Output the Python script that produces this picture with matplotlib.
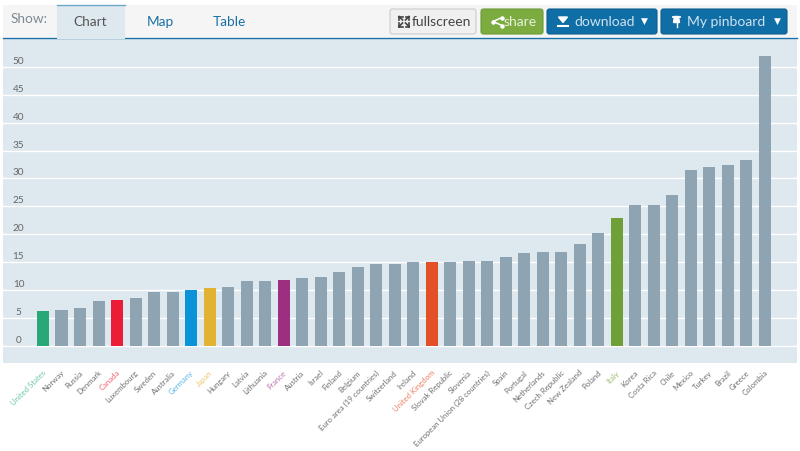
import matplotlib
matplotlib.use("Agg")
import matplotlib.pyplot as plt
from matplotlib.patches import FancyBboxPatch, Rectangle
from matplotlib.transforms import ScaledTranslation, blended_transform_factory

countries = ["United States", "Norway", "Russia", "Denmark", "Canada", "Luxembourg", "Sweden",
             "Australia", "Germany", "Japan", "Hungary", "Latvia", "Lithuania", "France",
             "Austria", "Israel", "Finland", "Belgium", "Euro area (19 countries)", "Switzerland",
             "Ireland", "United Kingdom", "Slovak Republic", "Slovenia",
             "European Union (28 countries)", "Spain", "Portugal", "Netherlands",
             "Czech Republic", "New Zealand", "Poland", "Italy", "Korea", "Costa Rica", "Chile",
             "Mexico", "Turkey", "Brazil", "Greece", "Colombia"]
values = [6.2, 6.4, 6.7, 8.0, 8.2, 8.5, 9.6, 9.6, 10.0, 10.3, 10.5, 11.6, 11.6, 11.8, 12.1, 12.4,
          13.2, 14.1, 14.7, 14.7, 15.1, 15.1, 15.1, 15.2, 15.2, 15.9, 16.6, 16.8, 16.9, 18.2,
          20.2, 22.9, 25.2, 25.2, 27.0, 31.6, 32.1, 32.4, 33.4, 52.0]
y_ticks = [0, 5, 10, 15, 20, 25, 30, 35, 40, 45, 50]

highlight = {"United States": ("#27a876", "#6cc7a3"), "Canada": ("#ea1c36", "#f0606f"),
             "Germany": ("#0a93d8", "#5cb6e6"), "Japan": ("#e2b233", "#ecc96c"),
             "France": ("#9c2f7f", "#bb6ea6"), "United Kingdom": ("#e34f26", "#ec8164"),
             "Italy": ("#6e9f38", "#9dbf73")}

BG = "#dee8ef"
BAR = "#8ea4b2"
BLUE = "#1a6fa5"
TEXT = "#666666"
W, H = 800, 451

plt.rcParams["font.family"] = ["Lato", "DejaVu Sans"]
fig = plt.figure(figsize=(W / 100, H / 100), dpi=100, facecolor="white")

# chart area, pixel box 3..797 x 38..363
ax = fig.add_axes([3 / W, 1 - 363 / H, 794 / W, 325 / H], facecolor=BG)
for spine in ax.spines.values():
    spine.set_visible(False)

xs = list(range(len(countries)))
colors = [highlight[c][0] if c in highlight else BAR for c in countries]
ax.bar(xs, values, width=0.65, color=colors, zorder=3)
ax.set_xlim(-2.16, 40.73)
ax.set_ylim(-3.1, 55.2)
ax.yaxis.grid(True, color="white", linewidth=1)
ax.set_axisbelow(True)
ax.set_yticks(y_ticks)
ax.tick_params(axis="y", length=0, labelleft=False)
ax.tick_params(axis="x", length=0, pad=4.5)

trans = blended_transform_factory(ax.transAxes, ax.transData)
for t in y_ticks:
    ax.text(0.0195, t + 1.0, str(t), transform=trans, ha="center", va="center",
            fontsize=7.2, color=TEXT)

ax.set_xticks(xs)
ax.set_xticklabels(countries, rotation=45, ha="right", rotation_mode="anchor", fontsize=5.6)
shift = ScaledTranslation(-1 / 100, 0, fig.dpi_scale_trans)
for lab, c in zip(ax.get_xticklabels(), countries):
    lab.set_color(highlight[c][1] if c in highlight else "#6f6f6f")
    lab.set_transform(lab.get_transform() + shift)

# header drawn in pixel coordinates
top = fig.add_axes([0, 0, 1, 1], facecolor="none")
top.set_xlim(0, W)
top.set_ylim(H, 0)
top.axis("off")

top.add_patch(Rectangle((3, 5), 794, 32, fc="#f5f5f5", ec="none"))
top.plot([3, 797], [37.5, 37.5], color=BLUE, lw=1)
top.add_patch(Rectangle((57, 5), 68, 33.5, fc=BG, ec="none", zorder=3))
top.plot([57, 125], [5, 5], color="#6fa6c8", lw=1, zorder=4)

top.text(29, 19, "Show:", color="#7d8a94", fontsize=9.8, ha="center", va="center")
top.text(90.5, 21.5, "Chart", color="#555555", fontsize=9.8, ha="center", va="center", zorder=5)
top.text(160, 21.5, "Map", color=BLUE, fontsize=9.8, ha="center", va="center")
top.text(229, 21.5, "Table", color=BLUE, fontsize=9.8, ha="center", va="center")


def button(x0, x1, face, edge):
    top.add_patch(FancyBboxPatch((x0, 9), x1 - x0, 25,
                                 boxstyle="round,pad=0,rounding_size=2.5", fc=face, ec=edge,
                                 lw=0.8, zorder=3))


button(390, 476, "#f0f0f0", "#cccccc")
button(481, 543, "#7cab3f", "#6d9a38")
button(547, 657, "#0f6ea6", "#0c5f90")
button(661, 787, "#0f6ea6", "#0c5f90")

top.text(441, 21.5, "fullscreen", color="#444444", fontsize=10, ha="center", va="center", zorder=5)
top.text(520, 21.5, "share", color="#e8f1dc", fontsize=10, ha="center", va="center", zorder=5)
top.text(605, 21.5, "download", color="#cfe3f0", fontsize=10, ha="center", va="center", zorder=5)
top.text(726, 21.5, "My pinboard", color="#cfe3f0", fontsize=10, ha="center", va="center", zorder=5)
top.text(644, 21, "▼", color="white", fontsize=6.5, ha="center", va="center", zorder=5,
         family="DejaVu Sans")
top.text(777, 21, "▼", color="white", fontsize=6.5, ha="center", va="center", zorder=5,
         family="DejaVu Sans")

# fullscreen icon
for dx, dy in [(-5, -5), (5, -5), (-5, 5), (5, 5)]:
    top.plot([404 + dx, 404 + dx * 0.3], [21.5 + dy, 21.5 + dy * 0.3], color="#444444", lw=1.2, zorder=5)
    top.plot([404 + dx, 404 + dx * 0.3], [21.5 + dy, 21.5 + dy], color="#444444", lw=1.2, zorder=5)
    top.plot([404 + dx, 404 + dx], [21.5 + dy, 21.5 + dy * 0.3], color="#444444", lw=1.2, zorder=5)
# share icon
top.plot([502, 493, 502], [17.5, 21.5, 25.5], color="white", lw=1.1, marker="o", ms=2.2, zorder=5)
# download icon
top.fill([558.5, 567.5, 563], [17, 17, 22.5], color="white", zorder=5)
top.plot([558, 568], [25.5, 25.5], color="white", lw=1.5, zorder=5)
# pin icon
top.plot([673, 680], [16.5, 16.5], color="white", lw=1.3, zorder=5)
top.fill([674.5, 678.5, 679.5, 673.5], [16.5, 16.5, 22.5, 22.5], color="white", zorder=5)
top.plot([676.5, 676.5], [22.5, 27], color="white", lw=1, zorder=5)

fig.savefig("out.png", dpi=100, facecolor="white")
